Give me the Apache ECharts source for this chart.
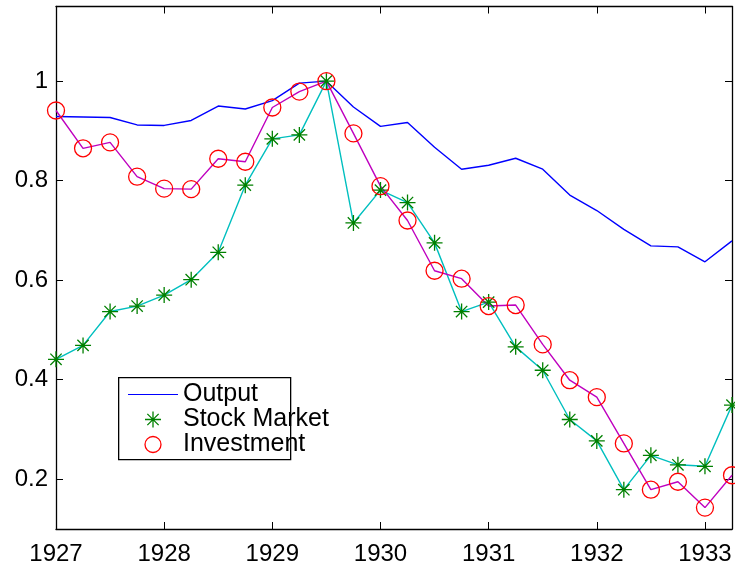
<!DOCTYPE html>
<html>
<head>
<meta charset="utf-8">
<script src="https://cdn.jsdelivr.net/npm/echarts@6/dist/echarts.min.js"></script>
<style>
html,body{margin:0;padding:0;background:#fff;}
#chart{width:735px;height:571px;}
</style>
</head>
<body>
<div id="chart"></div>
<script>
// Quarterly dates
const quarters = [1927, 1927.25, 1927.5, 1927.75, 1928, 1928.25, 1928.5, 1928.75,
  1929, 1929.25, 1929.5, 1929.75, 1930, 1930.25, 1930.5, 1930.75,
  1931, 1931.25, 1931.5, 1931.75, 1932, 1932.25, 1932.5, 1932.75,
  1933, 1933.25];
const output = [0.929, 0.928, 0.927, 0.912, 0.911, 0.921, 0.950, 0.944,
  0.961, 0.996, 1.000, 0.948, 0.909, 0.917, 0.867, 0.823,
  0.831, 0.845, 0.823, 0.771, 0.740, 0.702, 0.669, 0.667,
  0.637, 0.679];
const stockMarket = [0.441, 0.469, 0.537, 0.548, 0.570, 0.601, 0.656, 0.791,
  0.884, 0.892, 1.000, 0.715, 0.781, 0.756, 0.675, 0.537,
  0.556, 0.466, 0.419, 0.320, 0.277, 0.179, 0.248, 0.229,
  0.226, 0.349];
const investment = [0.941, 0.865, 0.877, 0.808, 0.784, 0.783, 0.844, 0.838,
  0.947, 0.979, 1.000, 0.895, 0.789, 0.720, 0.619, 0.603,
  0.548, 0.550, 0.471, 0.399, 0.365, 0.272, 0.179, 0.195,
  0.143, 0.208];
const xTicks = [1927, 1928, 1929, 1930, 1931, 1932, 1933];
const yTicks = [0.2, 0.4, 0.6, 0.8, 1];
const seriesNames = ['Output', 'Stock Market', 'Investment'];

const FONT = '"Liberation Sans", Arial, sans-serif';
const asterisk = 'path://M8,0L8,16M0,8L16,8M2.34,2.34L13.66,13.66M2.34,13.66L13.66,2.34';

const pair = (vals) => quarters.map((q, i) => [q, vals[i]]);

const axisCommon = {
  type: 'value',
  axisLine: {show: true, onZero: false, lineStyle: {color: '#000', width: 1.3}},
  axisTick: {show: true, inside: true, length: 7, lineStyle: {color: '#000', width: 1}},
  splitLine: {show: false}
};

const chart = echarts.init(document.getElementById('chart'), null, {renderer: 'canvas'});
chart.setOption({
  animation: false,
  backgroundColor: '#fff',
  grid: {left: 56, right: 3, top: 6.5, bottom: 42, containLabel: false},
  xAxis: [
    Object.assign({}, axisCommon, {
      position: 'bottom', min: 1927, max: 1933.25,
      axisTick: Object.assign({}, axisCommon.axisTick, {customValues: xTicks}),
      axisLabel: {customValues: xTicks, color: '#000', fontSize: 24, fontFamily: FONT, margin: 13,
        formatter: (v) => String(v)}
    }),
    Object.assign({}, axisCommon, {
      position: 'top', min: 1927, max: 1933.25,
      axisTick: Object.assign({}, axisCommon.axisTick, {customValues: xTicks}),
      axisLabel: {show: false}
    })
  ],
  yAxis: [
    Object.assign({}, axisCommon, {
      position: 'left', min: 0.1, max: 1.15,
      axisTick: Object.assign({}, axisCommon.axisTick, {customValues: yTicks}),
      axisLabel: {customValues: yTicks, color: '#000', fontSize: 24, fontFamily: FONT, margin: 8,
        formatter: (v) => String(Math.round(v * 10) / 10)}
    }),
    Object.assign({}, axisCommon, {
      position: 'right', min: 0.1, max: 1.15,
      axisTick: Object.assign({}, axisCommon.axisTick, {customValues: yTicks}),
      axisLabel: {show: false}
    })
  ],
  graphic: [{
    type: 'rect', left: 118, top: 377, z: 3,
    shape: {width: 172, height: 82},
    style: {fill: '#fff', stroke: '#000', lineWidth: 1.3}
  }],
  legend: {
    orient: 'vertical', left: 128, top: 382, padding: 0, itemGap: 0,
    itemWidth: 50, itemHeight: 16, selectedMode: false, z: 5,
    symbolKeepAspect: true,
    textStyle: {color: '#000', fontSize: 25, fontFamily: FONT, lineHeight: 25},
    data: [
      {name: seriesNames[0], icon: 'path://M0,0L50,0L50,1.2L0,1.2Z', itemStyle: {color: '#0000ff'}},
      {name: seriesNames[1], icon: asterisk, itemStyle: {color: 'rgba(0,0,0,0)', borderColor: '#008000', borderWidth: 1.3}},
      {name: seriesNames[2], icon: 'circle', itemStyle: {color: 'rgba(0,0,0,0)', borderColor: '#ff0000', borderWidth: 1.3}}
    ]
  },
  series: [
    {
      name: seriesNames[0], type: 'line', data: pair(output),
      symbol: 'none', lineStyle: {color: '#0000ff', width: 1.4},
      itemStyle: {color: '#0000ff'}, emphasis: {disabled: true}, z: 2
    },
    {
      name: seriesNames[1], type: 'line', data: pair(stockMarket),
      symbol: asterisk, symbolSize: 16, symbolKeepAspect: true,
      lineStyle: {color: '#00bfbf', width: 1.4},
      itemStyle: {color: 'rgba(0,0,0,0)', borderColor: '#008000', borderWidth: 1.3},
      emphasis: {disabled: true}, z: 2
    },
    {
      name: seriesNames[2], type: 'line', data: pair(investment),
      symbol: 'circle', symbolSize: 17,
      lineStyle: {color: '#bf00bf', width: 1.4},
      itemStyle: {color: 'rgba(0,0,0,0)', borderColor: '#ff0000', borderWidth: 1.3},
      emphasis: {disabled: true}, z: 2
    }
  ]
});
</script>
</body>
</html>
